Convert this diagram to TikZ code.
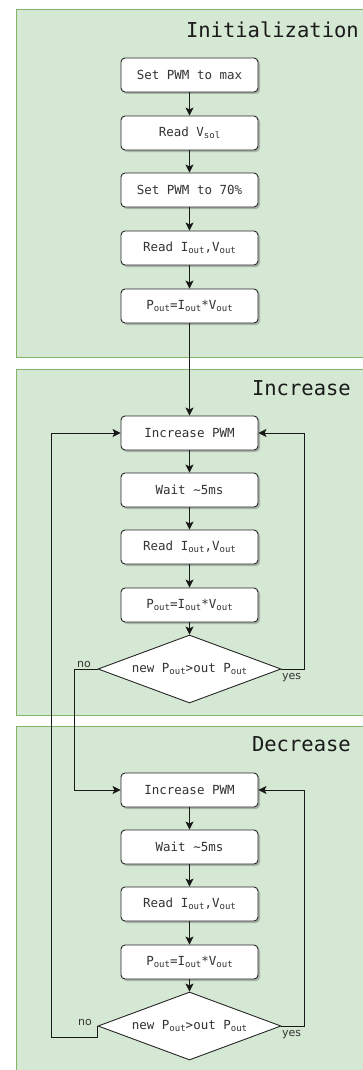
\documentclass[tikz,border=0pt]{standalone}
\usepackage{fontspec}
\setmonofont{DejaVu Sans Mono}
\newfontfamily\lblfont{DejaVu Sans}
\usetikzlibrary{shapes.geometric,arrows.meta,shadows}
\definecolor{panelfill}{HTML}{D5E8D4}
\definecolor{paneldraw}{HTML}{82B366}
\definecolor{titlecol}{HTML}{1A1A1A}
\definecolor{lblcol}{HTML}{333333}
\newcommand\lsub[1]{\raisebox{-0.35ex}{\fontsize{9}{10}\selectfont #1}}
\tikzset{
  panel/.style={fill=panelfill,draw=paneldraw,line width=1pt},
  ptitle/.style={anchor=base east,inner sep=0pt,text=titlecol,font=\fontsize{20.5}{22}\ttfamily},
  stepbox/.style={draw=black!85,fill=white,rounded corners=4pt,line width=0.9pt,
    minimum width=137pt,minimum height=34pt,inner sep=0pt,
    font=\fontsize{12.5}{14}\ttfamily,text=black!80,
    drop shadow={shadow xshift=2pt,shadow yshift=-2pt,opacity=0.4,fill=black!60}},
  decision/.style={diamond,draw=black!85,fill=white,line width=0.9pt,aspect=2.69,
    minimum width=183pt,minimum height=68pt,inner sep=0pt,
    font=\fontsize{12.5}{14}\ttfamily,text=black!80},
  conn/.style={draw=black!90,line width=0.9pt,-{Stealth[length=8pt,width=8pt,inset=1.8pt]}},
  lbl/.style={inner sep=0pt,text=lblcol,font=\fontsize{11}{12}\lblfont}
}
\begin{document}
\begin{tikzpicture}[x=1pt,y=-1pt]
\useasboundingbox (0,0) rectangle (362,1070);
% panels
\path[panel] (16,10) rectangle (372,357);
\path[panel] (16,369) rectangle (372,715);
\path[panel] (16,726) rectangle (372,1080);
\node[ptitle] (t1) at (359,38) {Initialization};
\node[ptitle] (t2) at (351,395) {Increase};
\node[ptitle] (t3) at (351,751) {Decrease};
% initialization
\node[stepbox] (b1) at (189.5,75) {Set PWM to max};
\node[stepbox] (b2) at (189.5,133) {Read V\lsub{sol}};
\node[stepbox] (b3) at (189.5,190) {Set PWM to 70\%};
\node[stepbox] (b4) at (189.5,248) {Read I\lsub{out},V\lsub{out}};
\node[stepbox] (b5) at (189.5,306) {P\lsub{out}=I\lsub{out}*V\lsub{out}};
% increase
\node[stepbox] (i1) at (189.5,433) {Increase PWM};
\node[stepbox] (i2) at (189.5,490) {Wait \textasciitilde5ms};
\node[stepbox] (i3) at (189.5,547) {Read I\lsub{out},V\lsub{out}};
\node[stepbox] (i4) at (189.5,605) {P\lsub{out}=I\lsub{out}*V\lsub{out}};
\node[decision] (id) at (189.5,669) {new P\lsub{out}>out P\lsub{out}};
% decrease
\node[stepbox] (d1) at (189.5,790) {Increase PWM};
\node[stepbox] (d2) at (189.5,847) {Wait \textasciitilde5ms};
\node[stepbox] (d3) at (189.5,904) {Read I\lsub{out},V\lsub{out}};
\node[stepbox] (d4) at (189.5,962) {P\lsub{out}=I\lsub{out}*V\lsub{out}};
\node[decision] (dd) at (189.5,1026) {new P\lsub{out}>out P\lsub{out}};
% helper coordinates
\coordinate (iyes) at (304,433);
\coordinate (ino) at (74,790);
\coordinate (dyes) at (304,790);
\coordinate (dnoleft) at (51,433);
% connectors
\draw[conn] (b1) -- (b2);
\draw[conn] (b2) -- (b3);
\draw[conn] (b3) -- (b4);
\draw[conn] (b4) -- (b5);
\draw[conn] (b5) -- (i1);
\draw[conn] (i1) -- (i2);
\draw[conn] (i2) -- (i3);
\draw[conn] (i3) -- (i4);
\draw[conn] (i4) -- (id);
\draw[conn] (id.east) -| (iyes) -- (i1.east);
\draw[conn] (id.west) -| (ino) -- (d1.west);
\draw[conn] (d1) -- (d2);
\draw[conn] (d2) -- (d3);
\draw[conn] (d3) -- (d4);
\draw[conn] (d4) -- (dd);
\draw[conn] (dd.east) -| (dyes) -- (d1.east);
\draw[conn] (dd.west) -- ++(0,11) -| (dnoleft) -- (i1.west);
% labels
\node[lbl,anchor=base west] (ino-l) at (77,667) {no};
\node[lbl,anchor=base west] (iyes-l) at (282,679) {yes};
\node[lbl,anchor=base west] (dno-l) at (78,1025) {no};
\node[lbl,anchor=base west] (dyes-l) at (282,1036) {yes};
\end{tikzpicture}
\end{document}
